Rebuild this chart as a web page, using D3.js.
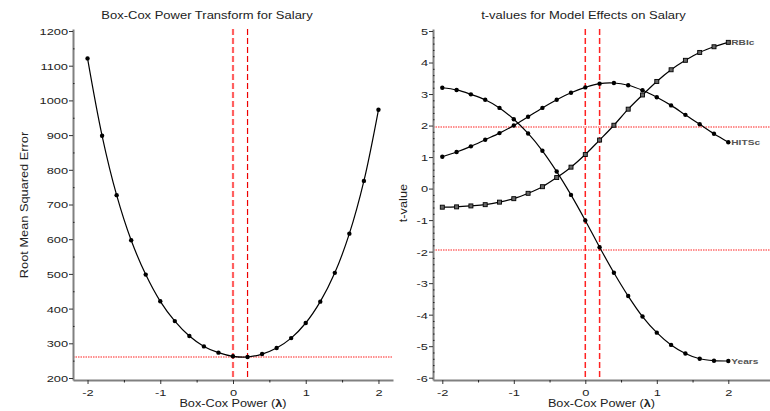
<!DOCTYPE html>
<html><head><meta charset="utf-8">
<script src="https://cdn.jsdelivr.net/npm/d3@7"></script>
<style>body{margin:0;background:#fff} text{font-family:"Liberation Sans",Arial,sans-serif}</style>
</head><body><svg id="c" width="770" height="411"></svg>
<script>
// ---- data ----
const lambdas = [-2,-1.8,-1.6,-1.4,-1.2,-1,-0.8,-0.6,-0.4,-0.2,0,0.2,0.4,0.6,0.8,1,1.2,1.4,1.6,1.8,2];
const rmse = [1121,898,727,597,498,421,364,321,291,273,262.5,260.5,269,286.5,315,358.5,420,503,616,768,973];
const tYears = [3.20,3.13,2.99,2.82,2.56,2.20,1.75,1.20,0.54,-0.20,-1.01,-1.86,-2.67,-3.41,-4.06,-4.57,-4.96,-5.23,-5.40,-5.46,-5.47];
const tHITSc = [1.01,1.16,1.34,1.55,1.76,2.00,2.28,2.56,2.82,3.04,3.21,3.33,3.35,3.28,3.12,2.90,2.64,2.34,2.04,1.74,1.47];
const tRBIc = [-0.59,-0.58,-0.55,-0.51,-0.43,-0.32,-0.15,0.06,0.35,0.68,1.08,1.54,2.01,2.52,2.97,3.40,3.77,4.07,4.32,4.50,4.64];
const seriesNames = ["Years","HITSc","RBIc"];
const lambdaTicks = [-2,-1,0,1,2];
const lambdaMinor = [-1.5,-0.5,0.5,1.5];
const rmseTicks = [200,300,400,500,600,700,800,900,1000,1100,1200];
const rmseMinor = [250,350,450,550,650,750,850,950,1050,1150];
const tTicks = [-6,-5,-4,-3,-2,-1,0,1,2,3,4,5];
const lambdaRefs = [0, 0.2];
const rmseRef = 261;
const tCrit = [1.96, -1.96];
const titles = ["Box-Cox Power Transform for Salary", "t-values for Model Effects on Salary"];
const yLabels = ["Root Mean Squared Error", "t-value"];

const svg = d3.select("#c");
const AX = "#808080";
const fmt = d => String(d);

function stretchText(g, x, y, txt, size, sx, anchor, rot, weight, fill) {
  const t = g.append("text")
    .attr("transform", `translate(${x},${y})${rot ? ` rotate(${rot})` : ""} scale(${sx},1)`)
    .attr("font-size", size).attr("text-anchor", anchor || "middle")
    .attr("fill", fill || "#222");
  if (weight) t.attr("font-weight", weight);
  t.text(txt);
  return t;
}
function xLabel(g, x, y) {
  const t = g.append("text").attr("transform", `translate(${x},${y}) scale(1.27,1)`)
    .attr("font-size", 10).attr("text-anchor", "middle").attr("fill", "#222");
  t.append("tspan").text("Box-Cox Power (");
  t.append("tspan").attr("font-weight", "bold").text("λ");
  t.append("tspan").text(")");
}
function hDotted(g, x1, x2, yy) {
  g.append("line").attr("x1", x1).attr("x2", x2).attr("y1", Math.round(yy)).attr("y2", Math.round(yy))
    .attr("stroke", "#ff2020").attr("stroke-width", 1.2).attr("stroke-dasharray", "1.5,1");
}

function styleAxis(g, isX) {
  g.select(".domain").attr("stroke", AX).attr("stroke-width", 2);
  g.selectAll(".tick line").attr("stroke", "#333").attr("stroke-width", 1);
  g.selectAll(".tick text").attr("font-size", 9.5).attr("fill", "#222")
    .attr("x", null).attr("y", null).attr("dy", null)
    .attr("transform", isX ? "translate(0,16) scale(1.35,1)" : "translate(-5,3.4) scale(1.35,1)")
    .attr("text-anchor", isX ? "middle" : "end");
}
function minorAxis(g, axis) {
  g.call(axis);
  g.select(".domain").remove();
  g.selectAll(".tick line").attr("stroke", "#222").attr("stroke-width", 1);
  g.selectAll(".tick text").remove();
}

const yTop = 29, yBot = 380;

// ---------------- Left panel ----------------
{
  const x = d3.scaleLinear().domain([-2.2, 2.2]).range([73, 393]);
  const y0 = d3.scaleLinear().domain([200, 1200]).range([378, 31]);
  const y = d3.scaleLinear().domain([y0.invert(yBot), y0.invert(yTop)]).range([yBot, yTop]);
  const g = svg.append("g");

  hDotted(g, x.range()[0], x.range()[1], y(rmseRef));
  g.append("line").attr("x1", x(lambdaRefs[0])).attr("x2", x(lambdaRefs[0]))
    .attr("y1", yTop).attr("y2", yBot).attr("stroke", "#ff6060").attr("stroke-width", 2.2).attr("stroke-dasharray", "6,3");
  g.append("line").attr("x1", x(lambdaRefs[1])).attr("x2", x(lambdaRefs[1]))
    .attr("y1", yTop).attr("y2", yBot).attr("stroke", "#e00").attr("stroke-width", 1.2).attr("stroke-dasharray", "6,3");

  const pts = lambdas.map((l, i) => [l, rmse[i]]);
  const line = d3.line().x(d => x(d[0])).y(d => y(d[1])).curve(d3.curveCatmullRom);
  g.append("path").attr("d", line(pts))
    .attr("fill", "none").attr("stroke", "#000").attr("stroke-width", 1.2);
  g.selectAll(null).data(pts).join("circle")
    .attr("cx", d => x(d[0])).attr("cy", d => y(d[1])).attr("r", 2.2).attr("fill", "#000");

  const gy = g.append("g").attr("transform", `translate(73,0)`)
    .call(d3.axisLeft(y).tickValues(rmseTicks).tickFormat(fmt).tickSize(4).tickSizeOuter(0));
  styleAxis(gy, false);
  minorAxis(g.append("g").attr("transform", `translate(73,0)`), d3.axisLeft(y).tickValues(rmseMinor).tickSize(-1.5));
  const gx = g.append("g").attr("transform", `translate(0,${yBot})`)
    .call(d3.axisBottom(x).tickValues(lambdaTicks).tickFormat(fmt).tickSize(4).tickSizeOuter(0));
  styleAxis(gx, true);
  minorAxis(g.append("g").attr("transform", `translate(0,${yBot})`), d3.axisBottom(x).tickValues(lambdaMinor).tickSize(2.5));

  stretchText(g, 207, 19, titles[0], 10, 1.3);
  xLabel(g, 233, 407);
  stretchText(g, 28, 205, yLabels[0], 10, 1.28, "middle", -90);
}

// ---------------- Right panel ----------------
{
  const x0 = d3.scaleLinear().domain([-2, 2]).range([442.3, 728.3]);
  const x = d3.scaleLinear().domain([x0.invert(433), x0.invert(770)]).range([433, 770]);
  const y0 = d3.scaleLinear().domain([-6, 5]).range([377.7, 31]);
  const y = d3.scaleLinear().domain([y0.invert(yBot), y0.invert(yTop)]).range([yBot, yTop]);
  const g = svg.append("g");

  tCrit.forEach(c => hDotted(g, 433, 770, y(c)));
  lambdaRefs.forEach(l => {
    g.append("line").attr("x1", x(l)).attr("x2", x(l)).attr("y1", yTop).attr("y2", yBot)
      .attr("stroke", "#f22").attr("stroke-width", 1.5).attr("stroke-dasharray", "6,3");
  });

  const series = [tYears, tHITSc, tRBIc];
  const line = d3.line().x(d => x(d[0])).y(d => y(d[1])).curve(d3.curveCatmullRom);
  series.forEach((vals, si) => {
    const pts = lambdas.map((l, i) => [l, vals[i]]);
    g.append("path").attr("d", line(pts)).attr("fill", "none").attr("stroke", "#000").attr("stroke-width", 1.2);
    if (si === 2) {
      g.selectAll(null).data(pts).join("rect")
        .attr("x", d => x(d[0]) - 2).attr("y", d => y(d[1]) - 2)
        .attr("width", 4).attr("height", 4).attr("fill", "#666").attr("stroke", "#000").attr("stroke-width", 0.9);
    } else {
      g.selectAll(null).data(pts).join("circle")
        .attr("cx", d => x(d[0])).attr("cy", d => y(d[1])).attr("r", 2.2).attr("fill", "#000");
    }
    const last = pts[pts.length - 1];
    stretchText(g, x(last[0]) + 3, y(last[1]) + 3, seriesNames[si], 8, 1.27, "start", 0, "bold", "#555");
  });

  const gy = g.append("g").attr("transform", `translate(433,0)`)
    .call(d3.axisLeft(y).tickValues(tTicks).tickFormat(fmt).tickSize(4).tickSizeOuter(0));
  styleAxis(gy, false);
  const tMinor = d3.range(-6, 5.01, 0.2).filter(v => Math.abs(v - Math.round(v)) > 0.01);
  minorAxis(g.append("g").attr("transform", `translate(433,0)`), d3.axisLeft(y).tickValues(tMinor).tickSize(-1.5));
  const gx = g.append("g").attr("transform", `translate(0,${yBot})`)
    .call(d3.axisBottom(x).tickValues(lambdaTicks).tickFormat(fmt).tickSize(4).tickSizeOuter(0));
  styleAxis(gx, true);
  minorAxis(g.append("g").attr("transform", `translate(0,${yBot})`), d3.axisBottom(x).tickValues(lambdaMinor).tickSize(2.5));

  stretchText(g, 583.5, 19, titles[1], 10, 1.3);
  xLabel(g, 601.5, 407);
  stretchText(g, 407, 203, yLabels[1], 10, 1.28, "middle", -90);
}
</script></body></html>
